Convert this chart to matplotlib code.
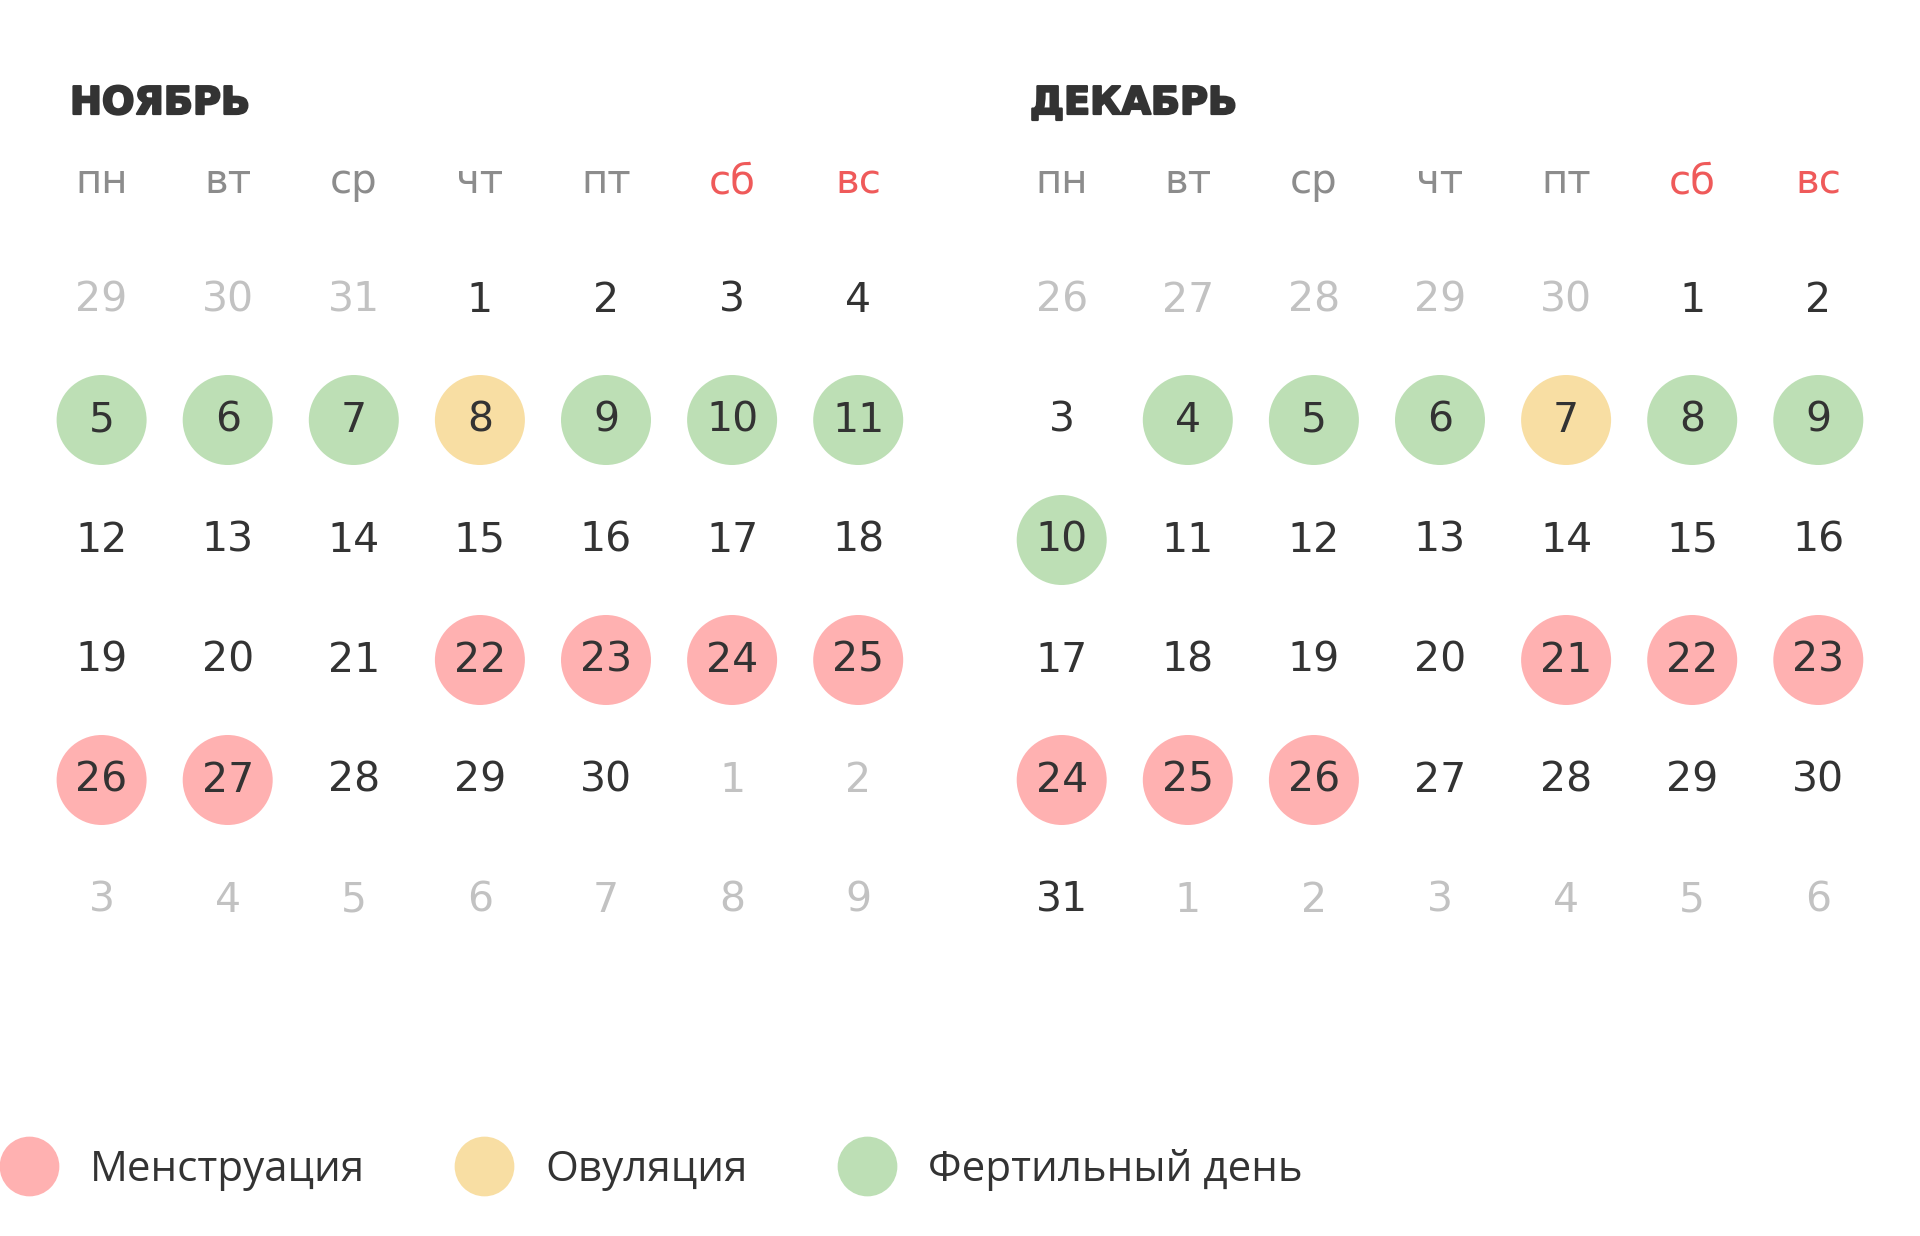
import matplotlib
matplotlib.use("Agg")
import matplotlib.pyplot as plt
from matplotlib.patches import Circle
from matplotlib.lines import Line2D
import matplotlib.patheffects as pe

# ---------------- data ----------------
month_titles = ["НОЯБРЬ", "ДЕКАБРЬ"]
weekdays = ["пн", "вт", "ср", "чт", "пт", "сб", "вс"]
weekend = ["сб", "вс"]

nov_grid = [
    [29, 30, 31, 1, 2, 3, 4],
    [5, 6, 7, 8, 9, 10, 11],
    [12, 13, 14, 15, 16, 17, 18],
    [19, 20, 21, 22, 23, 24, 25],
    [26, 27, 28, 29, 30, 1, 2],
    [3, 4, 5, 6, 7, 8, 9],
]
nov_first_cell = 3      # index of the 1st of November in the grid
nov_length = 30

dec_grid = [
    [26, 27, 28, 29, 30, 1, 2],
    [3, 4, 5, 6, 7, 8, 9],
    [10, 11, 12, 13, 14, 15, 16],
    [17, 18, 19, 20, 21, 22, 23],
    [24, 25, 26, 27, 28, 29, 30],
    [31, 1, 2, 3, 4, 5, 6],
]
dec_first_cell = 5
dec_length = 31

nov_menstruation = [22, 23, 24, 25, 26, 27]
nov_ovulation = [8]
nov_fertile = [5, 6, 7, 9, 10, 11]

dec_menstruation = [21, 22, 23, 24, 25, 26]
dec_ovulation = [7]
dec_fertile = [4, 5, 6, 8, 9, 10]

legend_labels = ["Менструация", "Овуляция", "Фертильный день"]

# ---------------- style ----------------
C_MENS = "#FFB1B1"
C_OVUL = "#F8DEA3"
C_FERT = "#BDDFB5"
C_DARK = "#333333"
C_GREY_DAY = "#C2C2C2"
C_WEEKDAY = "#8C8C8C"
C_WEEKEND = "#EF5A5A"

W, H = 1920, 1236
fig = plt.figure(figsize=(W / 100, H / 100), dpi=100)
ax = fig.add_axes([0, 0, 1, 1])
ax.set_xlim(0, W)
ax.set_ylim(H, 0)
ax.set_aspect("equal")
ax.axis("off")

col_step = 126.1
row_step = 120.0
row0 = 297
header_y = 193
title_y = 114
month_x0 = [101.6, 1061.7]
title_x = [70, 1030]
radius = 45

months = [
    (nov_grid, nov_first_cell, nov_length, nov_menstruation, nov_ovulation, nov_fertile),
    (dec_grid, dec_first_cell, dec_length, dec_menstruation, dec_ovulation, dec_fertile),
]

for m, (grid, first, length, mens, ovul, fert) in enumerate(months):
    x0 = month_x0[m]
    ax.text(title_x[m], title_y, month_titles[m], fontsize=27.5, fontweight="bold",
            family="DejaVu Sans", color=C_DARK, ha="left", va="baseline",
            path_effects=[pe.withStroke(linewidth=1.6, foreground=C_DARK)])
    for j, wd in enumerate(weekdays):
        ax.text(x0 + j * col_step, header_y, wd, fontsize=29, family="DejaVu Sans",
                color=C_WEEKEND if wd in weekend else C_WEEKDAY,
                ha="center", va="baseline")
    for i, row in enumerate(grid):
        for j, d in enumerate(row):
            idx = i * 7 + j
            in_month = first <= idx < first + length
            x = x0 + j * col_step
            y = row0 + i * row_step
            if in_month:
                fc = None
                if d in mens:
                    fc = C_MENS
                elif d in ovul:
                    fc = C_OVUL
                elif d in fert:
                    fc = C_FERT
                if fc:
                    ax.add_patch(Circle((x, y + 3), radius, facecolor=fc, edgecolor="none"))
            ax.text(x, y + 15, str(d), fontsize=29.5, family="DejaVu Sans",
                    color=C_DARK if in_month else C_GREY_DAY,
                    ha="center", va="baseline")

handles = [Line2D([], [], marker="o", linestyle="none", markersize=43,
                  markerfacecolor=c, markeredgecolor="none")
           for c in (C_MENS, C_OVUL, C_FERT)]
leg = fig.legend(handles, legend_labels, loc="center left",
                 bbox_to_anchor=(-0.0005, 1 - 1170 / H), bbox_transform=fig.transFigure,
                 ncol=3, frameon=False, borderpad=0, borderaxespad=0,
                 handlelength=1.42, handletextpad=0.74, columnspacing=2.12,
                 prop={"family": "Open Sans", "size": 30.3})
for t in leg.get_texts():
    t.set_color(C_DARK)

fig.savefig("out.png", dpi=100, facecolor="white")
